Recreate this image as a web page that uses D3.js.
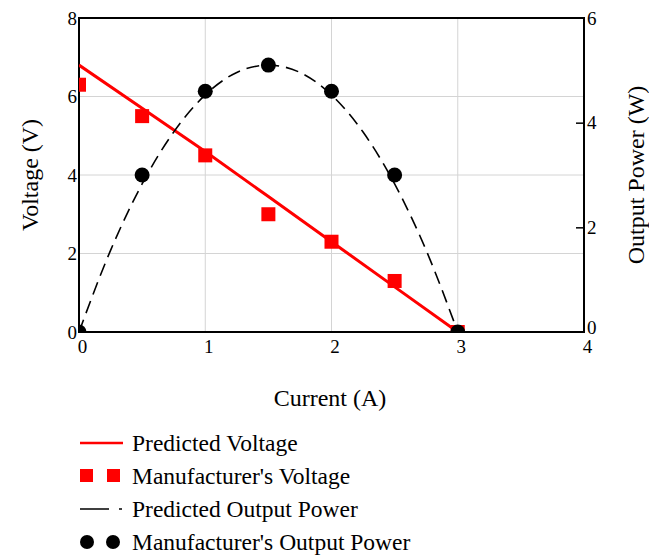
<!DOCTYPE html>
<html>
<head>
<meta charset="utf-8">
<script src="https://cdn.jsdelivr.net/npm/d3@7"></script>
<style>
  body { margin: 0; background: #fff; }
</style>
</head>
<body>
<svg id="chart" width="649" height="555" font-family="'Liberation Serif', 'DejaVu Serif', serif"></svg>
<script>
// current values (A) for the manufacturer's data
var current = [0, 0.5, 1, 1.5, 2, 2.5, 3];
var mfrVoltage = [6.3, 5.5, 4.5, 3.0, 2.3, 1.3, 0];
var mfrPower = [0, 3.0, 4.6, 5.1, 4.6, 3.0, 0];

// predicted curves
var predVoltage = [6.8, 5.7, 4.6, 3.45, 2.3, 1.15, 0];
var predPowerCurrent = [0, 0.25, 0.5, 0.75, 1, 1.25, 1.5, 1.75, 2, 2.25, 2.5, 2.75, 3];
var predPower = [0, 1.56, 2.83, 3.82, 4.53, 4.96, 5.1, 4.96, 4.53, 3.82, 2.83, 1.56, 0];

var xTicks = [0, 1, 2, 3, 4];
var vTicks = [0, 2, 4, 6, 8];
var pTicks = [0, 2, 4, 6];

var legendItems = ["Predicted Voltage", "Manufacturer's Voltage", "Predicted Output Power", "Manufacturer's Output Power"];

var serif = "'Liberation Serif', 'DejaVu Serif', serif";
var svg = d3.select("svg#chart");
var pLeft = 79, pRight = 584, pTop = 18, pBottom = 332;

var x = d3.scaleLinear().domain([0, 4]).range([pLeft, pRight]);
var yV = d3.scaleLinear().domain([0, 8]).range([pBottom, pTop]);
var yP = d3.scaleLinear().domain([0, 6]).range([pBottom, pTop]);

// clip for the marks
svg.append("clipPath").attr("id", "plotclip")
  .append("rect").attr("x", pLeft).attr("y", pTop)
  .attr("width", pRight - pLeft).attr("height", pBottom - pTop);

// gridlines
var grid = svg.append("g").attr("class", "grid");
grid.selectAll("line.gx").data(xTicks.slice(1, -1)).enter().append("line")
  .attr("x1", function(d) { return x(d); }).attr("x2", function(d) { return x(d); })
  .attr("y1", pTop).attr("y2", pBottom)
  .attr("stroke", "#d4d4d4").attr("stroke-width", 1);
grid.selectAll("line.gy").data(vTicks.slice(1, -1)).enter().append("line")
  .attr("x1", pLeft).attr("x2", pRight)
  .attr("y1", function(d) { return yV(d); }).attr("y2", function(d) { return yV(d); })
  .attr("stroke", "#d4d4d4").attr("stroke-width", 1);

// frame
svg.append("rect").attr("x", pLeft).attr("y", pTop)
  .attr("width", pRight - pLeft).attr("height", pBottom - pTop)
  .attr("fill", "none").attr("stroke", "#000").attr("stroke-width", 2);

// axes
var xAxis = d3.axisBottom(x).tickValues(xTicks).tickSize(0).tickPadding(8).tickFormat(d3.format("d"));
svg.append("g").attr("transform", "translate(0," + pBottom + ")").call(xAxis)
  .attr("font-family", serif).attr("font-size", 19)
  .call(function(g) { g.select(".domain").remove(); })
  .selectAll("text").attr("dx", 3).attr("fill", "#000");

var vAxis = d3.axisLeft(yV).tickValues(vTicks).tickSize(0).tickPadding(2).tickFormat(d3.format("d"));
svg.append("g").attr("transform", "translate(" + pLeft + ",0)").call(vAxis)
  .attr("font-family", serif).attr("font-size", 19)
  .call(function(g) { g.select(".domain").remove(); })
  .selectAll("text").attr("fill", "#000");

var pAxis = d3.axisRight(yP).tickValues(pTicks).tickSizeInner(-8).tickSizeOuter(0).tickPadding(14).tickFormat(d3.format("d"));
var pg = svg.append("g").attr("transform", "translate(" + pRight + ",0)").call(pAxis)
  .attr("font-family", serif).attr("font-size", 19);
pg.select(".domain").remove();
pg.selectAll(".tick line").attr("stroke", "#000").attr("stroke-width", 1.5)
  .attr("x2", function(d) { return (d === 0 || d === 6) ? 0 : -8; });
pg.selectAll("text").attr("x", 3).attr("fill", "#000")
  .attr("dy", function(d) { return d === 0 ? "0.1em" : "0.32em"; });

// axis titles
svg.append("text").attr("x", 330).attr("y", 406).attr("text-anchor", "middle")
  .attr("font-size", 24).text("Current (A)");
svg.append("text").attr("transform", "translate(38,175) rotate(-90)").attr("text-anchor", "middle")
  .attr("font-size", 24).text("Voltage (V)");
svg.append("text").attr("transform", "translate(644,175) rotate(-90)").attr("text-anchor", "middle")
  .attr("font-size", 24).text("Output Power (W)");

var marks = svg.append("g").attr("clip-path", "url(#plotclip)");

// predicted voltage
var vLine = d3.line()
  .x(function(d, i) { return x(current[i]); })
  .y(function(d) { return yV(d); });
marks.append("path").datum(predVoltage)
  .attr("d", vLine).attr("fill", "none")
  .attr("stroke", "#ff0000").attr("stroke-width", 3);

// predicted power
var pLine = d3.line()
  .x(function(d, i) { return x(predPowerCurrent[i]); })
  .y(function(d) { return yP(d); })
  .curve(d3.curveMonotoneX);
marks.append("path").datum(predPower)
  .attr("d", pLine).attr("fill", "none")
  .attr("stroke", "#000").attr("stroke-width", 1.6)
  .attr("stroke-dasharray", "13,7");

// manufacturer voltage squares
var sq = 14;
marks.selectAll("rect.mv").data(mfrVoltage).enter().append("rect")
  .attr("x", function(d, i) { return x(current[i]) - sq / 2; })
  .attr("y", function(d) { return yV(d) - sq / 2; })
  .attr("width", sq).attr("height", sq)
  .attr("fill", "#ff0000");

// manufacturer power circles
marks.selectAll("circle.mp").data(mfrPower).enter().append("circle")
  .attr("cx", function(d, i) { return x(current[i]); })
  .attr("cy", function(d) { return yP(d); })
  .attr("r", 7.5).attr("fill", "#000");

// legend
var legend = svg.append("g");
var rowY = [443, 476, 509, 542];
legend.selectAll("text").data(legendItems).enter().append("text")
  .attr("x", 132).attr("y", function(d, i) { return rowY[i] + 8; })
  .attr("font-size", 23.5).text(function(d) { return d; });

legend.append("line").attr("x1", 80).attr("x2", 123).attr("y1", rowY[0]).attr("y2", rowY[0])
  .attr("stroke", "#ff0000").attr("stroke-width", 2.5);
legend.selectAll("rect").data([87, 114]).enter().append("rect")
  .attr("x", function(d) { return d - 7; }).attr("y", rowY[1] - 7)
  .attr("width", 13).attr("height", 13).attr("fill", "#ff0000");
legend.append("line").attr("x1", 80).attr("x2", 122).attr("y1", rowY[2]).attr("y2", rowY[2])
  .attr("stroke", "#000").attr("stroke-width", 1.4).attr("stroke-dasharray", "29,10");
legend.selectAll("circle").data([87, 113]).enter().append("circle")
  .attr("cx", function(d) { return d; }).attr("cy", rowY[3])
  .attr("r", 7).attr("fill", "#000");
</script>
</body>
</html>
